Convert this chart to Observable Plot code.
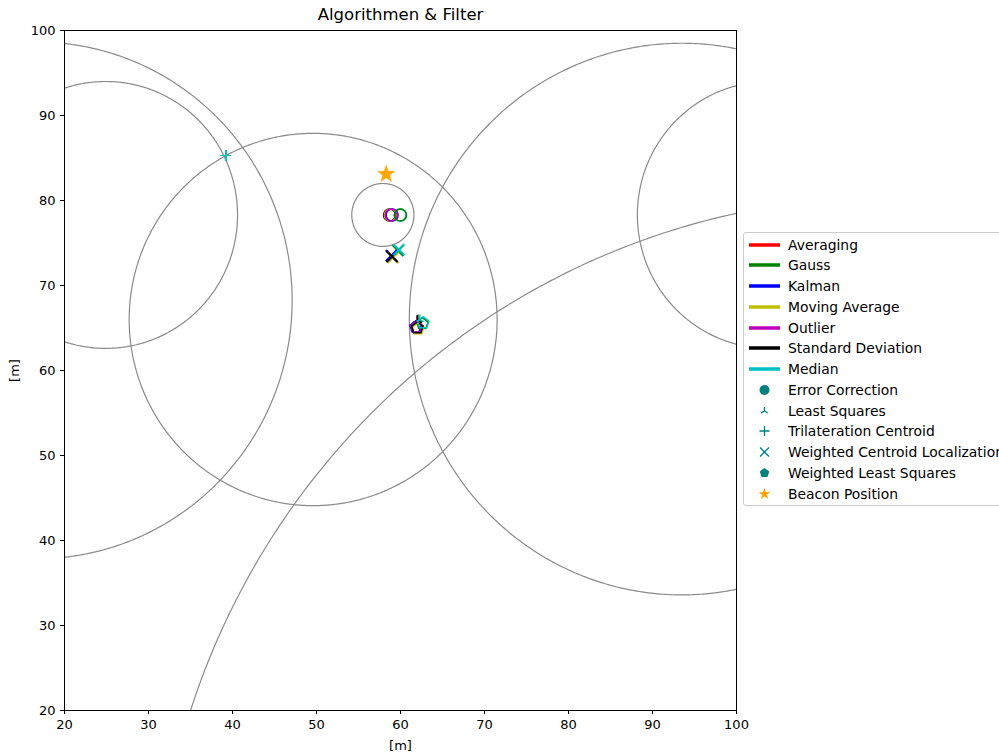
<!DOCTYPE html>
<html>
<head>
<meta charset="utf-8">
<script src="https://cdn.jsdelivr.net/npm/d3@7"></script>
<script src="https://cdn.jsdelivr.net/npm/@observablehq/plot@0.6"></script>
<style>
  html, body { margin: 0; padding: 0; background: #fff; overflow: hidden; }
  #wrap { position: relative; width: 999px; height: 754px; overflow: hidden; font-family: "DejaVu Sans", sans-serif; }
  #legend { position: absolute; left: 743px; top: 232px; width: 270px; height: 274px; border: 1px solid #cccccc; border-radius: 3px; background: #fff; box-sizing: border-box; }
  .row { position: absolute; left: 0; height: 20px; display: flex; align-items: center; font-size: 13.9px; color: #000; white-space: nowrap; }
  .row svg { width: 36px; height: 20px; margin-left: 2px; margin-right: 6px; }
</style>
</head>
<body>
<div id="wrap"></div>
<script>
// ---- data ----
const filters = ["Averaging", "Gauss", "Kalman", "Moving Average", "Outlier", "Standard Deviation", "Median"];
const filterColors = ["#ff0000", "#008000", "#0000ff", "#bfbf00", "#bf00bf", "#000000", "#00bfbf"];

// Error Correction (hollow circles)
const ecX = [58.8, 60.0, 59.0, 58.8, 58.9, 58.7, 59.95];
const ecY = [78.3, 78.3, 78.3, 78.3, 78.3, 78.3, 78.3];
// Least Squares (tri_up)
const lsX = [62.0, 62.1, 62.0, 62.0, 62.0, 62.0, 62.3];
const lsY = [65.9, 66.0, 65.9, 65.9, 65.9, 65.9, 66.0];
// Trilateration Centroid (plus)
const tcX = [39.2, 39.2, 39.2, 39.2, 39.2, 39.2, 39.2];
const tcY = [85.3, 85.3, 85.3, 85.3, 85.3, 85.3, 85.3];
// Weighted Centroid Localization (x)
const wcX = [59.0, 59.7, 58.9, 59.1, 58.95, 59.0, 59.8];
const wcY = [73.4, 74.1, 73.5, 73.3, 73.5, 73.4, 74.2];
// Weighted Least Squares (pentagon)
const wlX = [62.0, 62.6, 61.8, 62.1, 61.9, 62.0, 62.7];
const wlY = [65.0, 65.5, 65.1, 64.9, 65.1, 65.0, 65.6];

// Beacon position
const beaconX = [58.3];
const beaconY = [83.1];

// Range circles (center, radius)
const circleCx = [57.9, 49.6, 24.9, 16.7, 93.5, 103.9, 118.2];
const circleCy = [78.3, 66.0, 78.3, 68.25, 66.05, 78.3, -7.1];
const circleR  = [3.7, 21.9, 15.7, 30.4, 32.45, 15.7, 87.5];

const xTicks = [20, 30, 40, 50, 60, 70, 80, 90, 100];
const yTicks = [20, 30, 40, 50, 60, 70, 80, 90, 100];

const markerNames = ["Error Correction", "Least Squares", "Trilateration Centroid", "Weighted Centroid Localization", "Weighted Least Squares", "Beacon Position"];

// draw order of the filters for the error-correction circles (last on top)
const ecOrder = ["Median", "Standard Deviation", "Averaging", "Moving Average", "Kalman", "Outlier", "Gauss"];
const wcOrder = ["Gauss", "Outlier", "Averaging", "Kalman", "Moving Average", "Standard Deviation", "Median"];

// ---- symbols ----
const rOf = s => Math.sqrt(s / Math.PI);
const symX = {draw(c, s) { const r = rOf(s); c.moveTo(-r, -r); c.lineTo(r, r); c.moveTo(-r, r); c.lineTo(r, -r); }};
const symPlus = {draw(c, s) { const r = rOf(s); c.moveTo(-r, 0); c.lineTo(r, 0); c.moveTo(0, -r); c.lineTo(0, r); }};
const symTri = {draw(c, s) { const r = rOf(s);
  c.moveTo(0, 0); c.lineTo(0, -r);
  c.moveTo(0, 0); c.lineTo(-r * 0.866, r * 0.5);
  c.moveTo(0, 0); c.lineTo(r * 0.866, r * 0.5); }};
const symPent = {draw(c, s) { const r = rOf(s);
  for (let k = 0; k < 5; k++) { const a = -Math.PI / 2 + k * 2 * Math.PI / 5;
    const px = r * Math.cos(a), py = r * Math.sin(a); if (k === 0) c.moveTo(px, py); else c.lineTo(px, py); }
  c.closePath(); }};
const symStar = {draw(c, s) { const r = rOf(s), ri = r * 0.4;
  for (let k = 0; k < 10; k++) { const a = -Math.PI / 2 + k * Math.PI / 5; const rr = k % 2 ? ri : r;
    const px = rr * Math.cos(a), py = rr * Math.sin(a); if (k === 0) c.moveTo(px, py); else c.lineTo(px, py); }
  c.closePath(); }};

// ---- build tables ----
const mk = (xs, ys) => filters.map((f, i) => ({filter: f, color: filterColors[i], x: xs[i], y: ys[i]}));
const byOrder = (rows, order) => order.map(f => rows.find(r => r.filter === f));
const ec = byOrder(mk(ecX, ecY), ecOrder), ls = mk(lsX, lsY), tc = mk(tcX, tcY), wc = byOrder(mk(wcX, wcY), wcOrder), wl = mk(wlX, wlY);
const beacon = beaconX.map((x, i) => ({x, y: beaconY[i]}));

const circlePts = [];
circleCx.forEach((cx, i) => {
  for (let a = 0; a <= 720; a++) {
    const t = a / 720 * 2 * Math.PI;
    circlePts.push({i, x: cx + circleR[i] * Math.cos(t), y: circleCy[i] + circleR[i] * Math.sin(t)});
  }
});

const chart = Plot.plot({
  width: 999,
  height: 754,
  marginLeft: 64,
  marginRight: 263,
  marginTop: 30,
  marginBottom: 44,
  style: {fontFamily: "DejaVu Sans, sans-serif", fontSize: "13px", color: "#000", background: "#fff"},
  x: {domain: [20, 100], ticks: xTicks, tickSize: 4, label: "[m]", labelAnchor: "center", labelOffset: 39, labelArrow: "none"},
  y: {domain: [20, 100], ticks: yTicks, tickSize: 4, label: "[m]", labelAnchor: "center", labelOffset: 55, labelArrow: "none"},
  marks: [
    Plot.line(circlePts, {x: "x", y: "y", z: "i", stroke: "#8a8a8a", strokeWidth: 1.2, clip: true}),
    Plot.dot(ec, {x: "x", y: "y", r: 6, stroke: "color", fill: "none", strokeWidth: 1.5, symbol: "circle"}),
    Plot.dot(ls, {x: "x", y: "y", r: 5, stroke: "color", strokeWidth: 1.3, symbol: symTri}),
    Plot.dot(tc, {x: "x", y: "y", r: 5.5, stroke: "color", strokeWidth: 1.5, symbol: symPlus, shapeRendering: "crispEdges"}),
    Plot.dot(wc, {x: "x", y: "y", r: 5.5, stroke: "color", strokeWidth: 2, symbol: symX}),
    Plot.dot(wl, {x: "x", y: "y", r: 6, stroke: "color", fill: "none", strokeWidth: 1.5, symbol: symPent}),
    Plot.dot(beacon, {x: "x", y: "y", r: 9, fill: "#ffa500", stroke: "#ffa500", strokeWidth: 0.5, symbol: symStar}),
    Plot.frame({stroke: "#000", strokeWidth: 1}),
    Plot.text(["Algorithmen & Filter"], {frameAnchor: "top", dy: -22, fontSize: 16.5, fill: "#000"})
  ]
});
document.getElementById("wrap").appendChild(chart);

// ---- legend ----
const legend = document.createElement("div");
legend.id = "legend";
const NS = "http://www.w3.org/2000/svg";
function drawSym(sym, size) { const p = d3.path(); sym.draw(p, size); return p.toString(); }
const teal = "#008080";
const entries = [];
filters.forEach((f, i) => entries.push({label: f, type: "line", color: filterColors[i]}));
entries.push({label: markerNames[0], type: "sym", d: drawSym(d3.symbolCircle, Math.PI * 25), fill: teal});
entries.push({label: markerNames[1], type: "sym", d: drawSym(symTri, Math.PI * 16), stroke: teal});
entries.push({label: markerNames[2], type: "sym", d: drawSym(symPlus, Math.PI * 25), stroke: teal});
entries.push({label: markerNames[3], type: "sym", d: drawSym(symX, Math.PI * 20), stroke: teal});
entries.push({label: markerNames[4], type: "sym", d: drawSym(symPent, Math.PI * 25), fill: teal});
entries.push({label: markerNames[5], type: "sym", d: drawSym(symStar, Math.PI * 36), fill: "#ffa500"});
entries.forEach((e, k) => {
  const row = document.createElement("div");
  row.className = "row";
  row.style.top = (1.5 + k * 20.75) + "px";
  const s = document.createElementNS(NS, "svg");
  s.setAttribute("viewBox", "0 0 36 20");
  if (e.type === "line") {
    const l = document.createElementNS(NS, "line");
    l.setAttribute("x1", 3); l.setAttribute("x2", 34); l.setAttribute("y1", 10); l.setAttribute("y2", 10);
    l.setAttribute("stroke", e.color); l.setAttribute("stroke-width", 3.5);
    s.appendChild(l);
  } else {
    const p = document.createElementNS(NS, "path");
    p.setAttribute("d", e.d);
    p.setAttribute("transform", "translate(18.5,10)");
    p.setAttribute("fill", e.fill || "none");
    p.setAttribute("stroke", e.stroke || "none");
    p.setAttribute("stroke-width", 1.3);
    s.appendChild(p);
  }
  row.appendChild(s);
  const t = document.createElement("span");
  t.textContent = e.label;
  row.appendChild(t);
  legend.appendChild(row);
});
document.getElementById("wrap").appendChild(legend);
</script>
</body>
</html>
